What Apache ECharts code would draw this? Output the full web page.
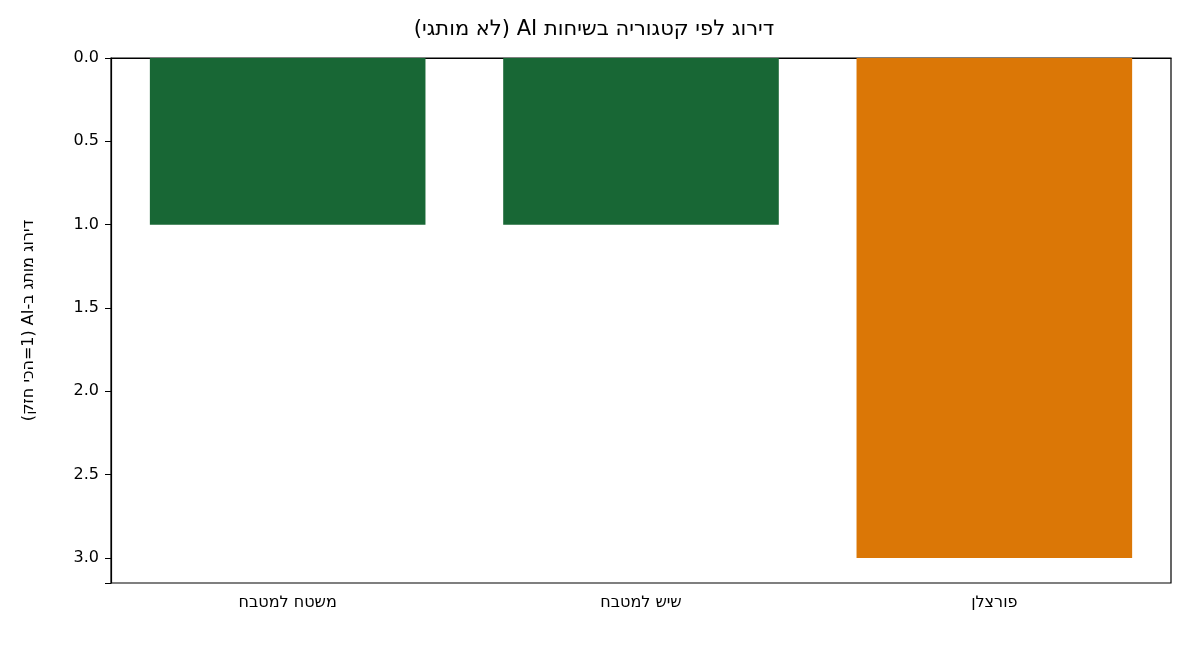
<!DOCTYPE html>
<html dir="rtl"><head><meta charset="utf-8">
<script src="https://cdn.jsdelivr.net/npm/echarts@6/dist/echarts.min.js"></script>
<style>html,body{margin:0;padding:0;background:#fff}#c{width:1188px;height:645px}</style>
</head><body><div id="c"></div>
<script>
const categories = ['משטח למטבח', 'שיש למטבח', 'פורצלן'];
const ranks = [1, 1, 3];
const barColors = ['#186735', '#186735', '#db7706'];
const chart = echarts.init(document.getElementById('c'));
const font = 'DejaVu Sans';
chart.setOption({
  animation: false,
  title: { text: 'דירוג לפי קטגוריה בשיחות AI (לא מותגי)', left: 'center', top: 14,
    textStyle: { fontFamily: font, fontSize: 21, fontWeight: 'normal', color: '#000' } },
  grid: { left: 111, right: 17, top: 58, bottom: 62, show: true, borderColor: '#000', borderWidth: 1.2 },
  xAxis: { type: 'category', data: categories,
    axisLine: { lineStyle: { color: '#000', width: 1.2 } },
    axisTick: { alignWithLabel: true, length: 6, lineStyle: { color: '#000' } },
    axisLabel: { fontFamily: font, fontSize: 16, color: '#000', margin: 12 } },
  yAxis: { type: 'value', inverse: true, min: 0, max: 3.15, interval: 0.5,
    name: 'דירוג מותג ב-AI (1=הכי חזק)', nameLocation: 'middle', nameGap: 74, nameRotate: 90,
    nameTextStyle: { fontFamily: font, fontSize: 16, color: '#000' },
    splitLine: { show: false },
    axisLine: { show: true, lineStyle: { color: '#000', width: 1.2 } },
    axisTick: { show: true, length: 6, lineStyle: { color: '#000' } },
    axisLabel: { fontFamily: font, fontSize: 16, color: '#000', margin: 12,
      formatter: v => (Math.abs(v * 2 - Math.round(v * 2)) < 1e-6 ? v.toFixed(1) : '') } },
  series: [{ type: 'bar', barWidth: '78%',
    data: ranks.map((v, i) => ({ value: v, itemStyle: { color: barColors[i] } })) }]
});
</script></body></html>
